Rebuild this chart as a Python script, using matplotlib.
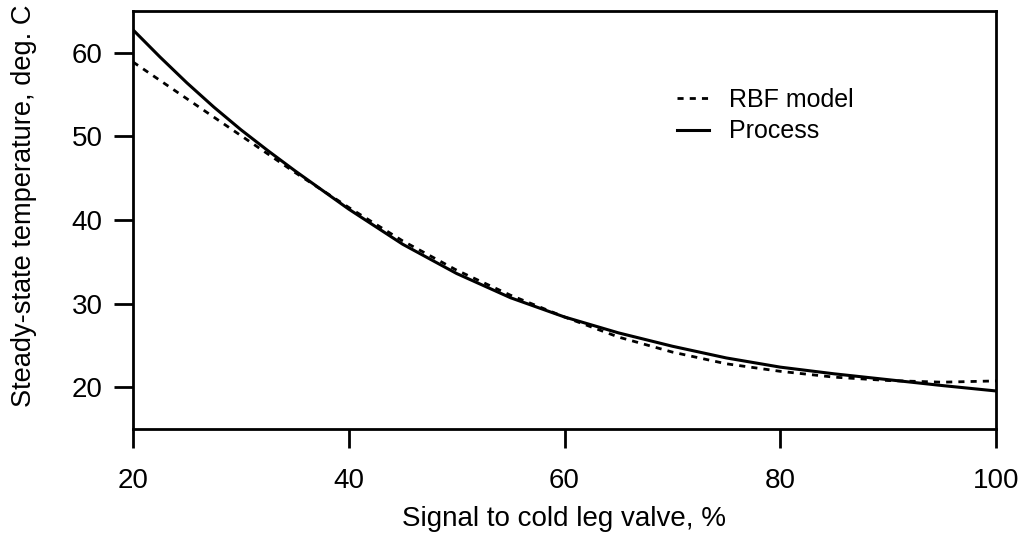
import matplotlib
matplotlib.use("Agg")
import matplotlib.pyplot as plt

signal = [20, 22.5, 25, 27.5, 30, 32.5, 35, 37.5, 40, 45, 50, 55, 60, 65, 70, 75, 80, 85, 90, 95, 100]
process = [62.75, 59.5, 56.4, 53.5, 50.8, 48.3, 45.9, 43.6, 41.3, 37.1, 33.6, 30.7, 28.4, 26.5, 24.9, 23.5, 22.4, 21.6, 20.9, 20.2, 19.55]
rbf = [58.9, 56.7, 54.5, 52.3, 50.1, 47.9, 45.7, 43.6, 41.5, 37.5, 34.0, 31.0, 28.4, 26.0, 24.2, 22.8, 21.9, 21.2, 20.8, 20.6, 20.75]

xticks = [20, 40, 60, 80, 100]
yticks = [20, 30, 40, 50, 60]

plt.rcParams['font.family'] = ['Liberation Sans', 'DejaVu Sans']

fig = plt.figure(figsize=(10.26, 5.39), dpi=100)
ax = fig.add_axes([133/1026, 1-429/539, (996-133)/1026, (429-11)/539])

ax.plot(signal, rbf, color='black', lw=2.0, ls=(0, (2.2, 2.2)), label='RBF model')
ax.plot(signal, process, color='black', lw=2.2, label='Process')

ax.set_xlim(20, 100)
ax.set_ylim(15, 65)
ax.set_xticks(xticks)
ax.set_yticks(yticks)
ax.tick_params(axis='both', direction='out', length=14, width=2.0, labelsize=20)
ax.tick_params(axis='x', pad=14)
ax.tick_params(axis='y', pad=8)
for s in ax.spines.values():
    s.set_linewidth(2.0)

ax.set_xlabel('Signal to cold leg valve, %', fontsize=20, labelpad=9)
ax.set_ylabel('Steady-state temperature, deg. C', fontsize=19.6)
ax.yaxis.set_label_coords(-0.111, 0.534)

leg = ax.legend(loc='upper left', bbox_to_anchor=(0.604, 0.87), frameon=False,
                fontsize=18, handlelength=1.3, handletextpad=0.8, labelspacing=0.3)

fig.savefig('out.png', dpi=100)
